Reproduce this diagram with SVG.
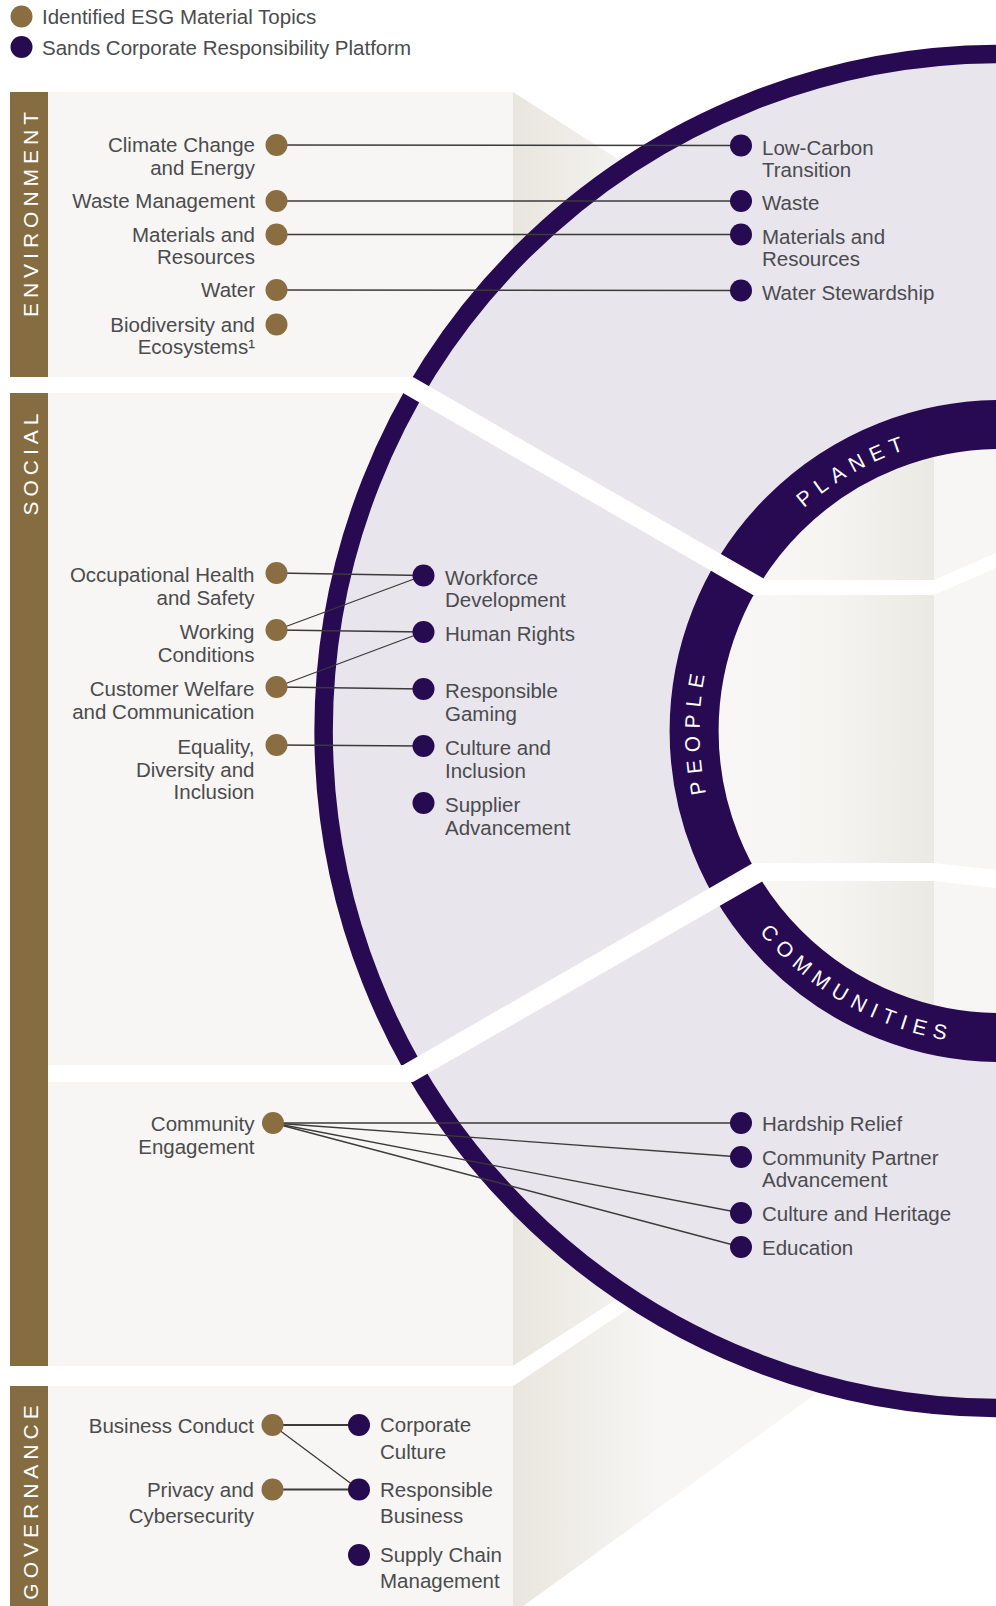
<svg xmlns="http://www.w3.org/2000/svg" width="996" height="1606" viewBox="0 0 996 1606">
<defs>
<style>
.lbl{font-family:"Liberation Sans",Arial,sans-serif;font-size:20.5px;fill:#4b4b4d}
.end{text-anchor:end}
.leg{font-family:"Liberation Sans",Arial,sans-serif;font-size:20.5px;fill:#4b4b4d}
.sec{font-family:"Liberation Sans",Arial,sans-serif;font-size:21px;fill:#ffffff;letter-spacing:5px;text-anchor:middle}
.ring{font-family:"Liberation Sans",Arial,sans-serif;font-size:21px;fill:#ffffff;letter-spacing:7px;text-anchor:middle}
.gold{fill:#8a6e42}
.purp{fill:#270b50}
.bar{fill:#866c41}
.panel{fill:#f7f6f4}
.band{fill:#ffffff}
.conn line{stroke:#3a3a3a;stroke-width:1.3;fill:none}
</style>
<linearGradient id="side" gradientUnits="userSpaceOnUse" x1="513" y1="0" x2="660" y2="0">
<stop offset="0" stop-color="#e9e6de"/>
<stop offset="1" stop-color="#f7f6f4"/>
</linearGradient>
<linearGradient id="core" gradientUnits="userSpaceOnUse" x1="700" y1="0" x2="996" y2="0">
<stop offset="0" stop-color="#f8f7f5"/>
<stop offset="0.405" stop-color="#f6f5f2"/>
<stop offset="0.79" stop-color="#ebe9e3"/>
<stop offset="0.792" stop-color="#f7f6f4"/>
<stop offset="1" stop-color="#f7f6f4"/>
</linearGradient>
<path id="arcPlanet" d="M722.3,626.9 A297,297 0 0 1 1054.8,438.9"/>
<path id="arcPeople" d="M770.0,924.5 A301,301 0 0 1 770.0,537.5"/>
<path id="arcComm" d="M705.5,838.4 A314.5,314.5 0 0 0 1060.5,1039.5"/>
</defs>

<g id="legend">
<circle class="gold" cx="21.5" cy="16.5" r="11"/>
<text class="leg" x="42" y="24">Identified ESG Material Topics</text>
<circle class="purp" cx="21.5" cy="47" r="11"/>
<text class="leg" x="42" y="55">Sands Corporate Responsibility Platform</text>
</g>

<g id="background">
<rect class="panel" x="48" y="92" width="465" height="1514"/>
<polygon fill="url(#side)" points="513,92 720,224.5 720,385 513,385"/>
<polygon fill="url(#side)" points="513,1075 720,1075 720,1233 513,1366"/>
<polygon fill="url(#side)" points="513,1386 720,1247 900,1333 523.3,1606 513,1606"/>
<polygon class="band" points="0,1366 513,1366 720,1233 720,1247 513,1386 0,1386"/>
</g>

<g id="circle">
<circle cx="1000.6" cy="731" r="677" fill="#e8e5ed" stroke="#280a52" stroke-width="18.5"/>
<circle cx="1000.6" cy="731" r="306.5" fill="url(#core)" stroke="#280a52" stroke-width="49"/>
</g>

<g id="separators">
<polygon class="band" points="0,377 413,377 766,580 934,580 996,553 996,568 934,595 753,595 403,393 0,393"/>
<polygon class="band" points="48,1065 403,1065 753,863 934,863 996,870 996,888 934,881 763,881 413,1082 48,1082"/>
</g>

<g id="ring-labels">
<text class="ring"><textPath href="#arcPlanet" startOffset="50%">PLANET</textPath></text>
<text class="ring"><textPath href="#arcPeople" startOffset="50%">PEOPLE</textPath></text>
<text class="ring"><textPath href="#arcComm" startOffset="50%">COMMUNITIES</textPath></text>
</g>

<g id="section-bars">
<rect class="bar" x="10" y="92" width="38" height="285"/>
<rect class="bar" x="10" y="393" width="38" height="973"/>
<rect class="bar" x="10" y="1386" width="38" height="220"/>
<text class="sec" transform="translate(37.5,212) rotate(-90)">ENVIRONMENT</text>
<text class="sec" transform="translate(37.5,462) rotate(-90)">SOCIAL</text>
<text class="sec" transform="translate(37.5,1500) rotate(-90)">GOVERNANCE</text>
</g>

<g id="connectors" class="conn">
<line x1="276.5" y1="145" x2="741" y2="145.5"/>
<line x1="276.5" y1="201" x2="741" y2="201"/>
<line x1="276.5" y1="234.5" x2="741" y2="234.5"/>
<line x1="276.5" y1="290" x2="741" y2="290.5"/>
<line x1="276.5" y1="573" x2="423.5" y2="575.5"/>
<line x1="276.5" y1="630" x2="423.5" y2="575.5"/>
<line x1="276.5" y1="630" x2="423.5" y2="632"/>
<line x1="276.5" y1="687" x2="423.5" y2="632"/>
<line x1="276.5" y1="687" x2="423.5" y2="689"/>
<line x1="276.5" y1="745" x2="423.5" y2="746"/>
<line x1="273" y1="1123" x2="741" y2="1123"/>
<line x1="273" y1="1123" x2="741" y2="1157"/>
<line x1="273" y1="1123" x2="741" y2="1213"/>
<line x1="273" y1="1123" x2="741" y2="1247"/>
<line x1="272.5" y1="1425" x2="359" y2="1425" style="stroke-width:2"/>
<line x1="272.5" y1="1425" x2="359" y2="1489.5"/>
<line x1="272.5" y1="1489.5" x2="359" y2="1489.5" style="stroke-width:2"/>
</g>

<g id="env-climate"><circle class="gold" cx="276.5" cy="145" r="11"/><text class="lbl end"><tspan x="255" y="152">Climate Change</tspan><tspan x="255" y="174.5">and Energy</tspan></text></g>
<g id="env-waste"><circle class="gold" cx="276.5" cy="201" r="11"/><text class="lbl end" x="255" y="208">Waste Management</text></g>
<g id="env-materials"><circle class="gold" cx="276.5" cy="234.5" r="11"/><text class="lbl end"><tspan x="255" y="241.5">Materials and</tspan><tspan x="255" y="264">Resources</tspan></text></g>
<g id="env-water"><circle class="gold" cx="276.5" cy="290" r="11"/><text class="lbl end" x="255" y="297">Water</text></g>
<g id="env-biodiversity"><circle class="gold" cx="276.5" cy="324.5" r="11"/><text class="lbl end"><tspan x="255" y="331.5">Biodiversity and</tspan><tspan x="255" y="354">Ecosystems¹</tspan></text></g>

<g id="scr-lowcarbon"><circle class="purp" cx="741" cy="145.5" r="11"/><text class="lbl"><tspan x="762" y="154.5">Low-Carbon</tspan><tspan x="762" y="177">Transition</tspan></text></g>
<g id="scr-waste"><circle class="purp" cx="741" cy="201" r="11"/><text class="lbl" x="762" y="210">Waste</text></g>
<g id="scr-materials"><circle class="purp" cx="741" cy="234.5" r="11"/><text class="lbl"><tspan x="762" y="243.5">Materials and</tspan><tspan x="762" y="266">Resources</tspan></text></g>
<g id="scr-water"><circle class="purp" cx="741" cy="290.5" r="11"/><text class="lbl" x="762" y="299.5">Water Stewardship</text></g>

<g id="soc-ohs"><circle class="gold" cx="276.5" cy="573" r="11"/><text class="lbl end"><tspan x="254.5" y="582">Occupational Health</tspan><tspan x="254.5" y="604.5">and Safety</tspan></text></g>
<g id="soc-working"><circle class="gold" cx="276.5" cy="630" r="11"/><text class="lbl end"><tspan x="254.5" y="639">Working</tspan><tspan x="254.5" y="661.5">Conditions</tspan></text></g>
<g id="soc-customer"><circle class="gold" cx="276.5" cy="687" r="11"/><text class="lbl end"><tspan x="254.5" y="696">Customer Welfare</tspan><tspan x="254.5" y="718.5">and Communication</tspan></text></g>
<g id="soc-equality"><circle class="gold" cx="276.5" cy="745" r="11"/><text class="lbl end"><tspan x="254.5" y="754">Equality,</tspan><tspan x="254.5" y="776.5">Diversity and</tspan><tspan x="254.5" y="799">Inclusion</tspan></text></g>

<g id="scr-workforce"><circle class="purp" cx="423.5" cy="575.5" r="11"/><text class="lbl"><tspan x="445" y="584.5">Workforce</tspan><tspan x="445" y="607">Development</tspan></text></g>
<g id="scr-humanrights"><circle class="purp" cx="423.5" cy="632" r="11"/><text class="lbl" x="445" y="641">Human Rights</text></g>
<g id="scr-gaming"><circle class="purp" cx="423.5" cy="689" r="11"/><text class="lbl"><tspan x="445" y="698">Responsible</tspan><tspan x="445" y="720.5">Gaming</tspan></text></g>
<g id="scr-culture"><circle class="purp" cx="423.5" cy="746" r="11"/><text class="lbl"><tspan x="445" y="755">Culture and</tspan><tspan x="445" y="777.5">Inclusion</tspan></text></g>
<g id="scr-supplier"><circle class="purp" cx="423.5" cy="803" r="11"/><text class="lbl"><tspan x="445" y="812">Supplier</tspan><tspan x="445" y="834.5">Advancement</tspan></text></g>

<g id="soc-community"><circle class="gold" cx="273" cy="1123" r="11"/><text class="lbl end"><tspan x="254.5" y="1131">Community</tspan><tspan x="254.5" y="1153.5">Engagement</tspan></text></g>
<g id="scr-hardship"><circle class="purp" cx="741" cy="1123" r="11"/><text class="lbl" x="762" y="1130.5">Hardship Relief</text></g>
<g id="scr-partner"><circle class="purp" cx="741" cy="1157" r="11"/><text class="lbl"><tspan x="762" y="1164.5">Community Partner</tspan><tspan x="762" y="1187">Advancement</tspan></text></g>
<g id="scr-heritage"><circle class="purp" cx="741" cy="1213" r="11"/><text class="lbl" x="762" y="1220.5">Culture and Heritage</text></g>
<g id="scr-education"><circle class="purp" cx="741" cy="1247" r="11"/><text class="lbl" x="762" y="1254.5">Education</text></g>

<g id="gov-conduct"><circle class="gold" cx="272.5" cy="1425" r="11"/><text class="lbl end" x="254" y="1432.5">Business Conduct</text></g>
<g id="gov-privacy"><circle class="gold" cx="272.5" cy="1489.5" r="11"/><text class="lbl end"><tspan x="254" y="1496.5">Privacy and</tspan><tspan x="254" y="1522.5">Cybersecurity</tspan></text></g>
<g id="scr-corporate"><circle class="purp" cx="359" cy="1425" r="11"/><text class="lbl"><tspan x="380" y="1432">Corporate</tspan><tspan x="380" y="1458.5">Culture</tspan></text></g>
<g id="scr-responsible"><circle class="purp" cx="359" cy="1489.5" r="11"/><text class="lbl"><tspan x="380" y="1497">Responsible</tspan><tspan x="380" y="1522.5">Business</tspan></text></g>
<g id="scr-supplychain"><circle class="purp" cx="359" cy="1555" r="11"/><text class="lbl"><tspan x="380" y="1562">Supply Chain</tspan><tspan x="380" y="1588">Management</tspan></text></g>
</svg>
